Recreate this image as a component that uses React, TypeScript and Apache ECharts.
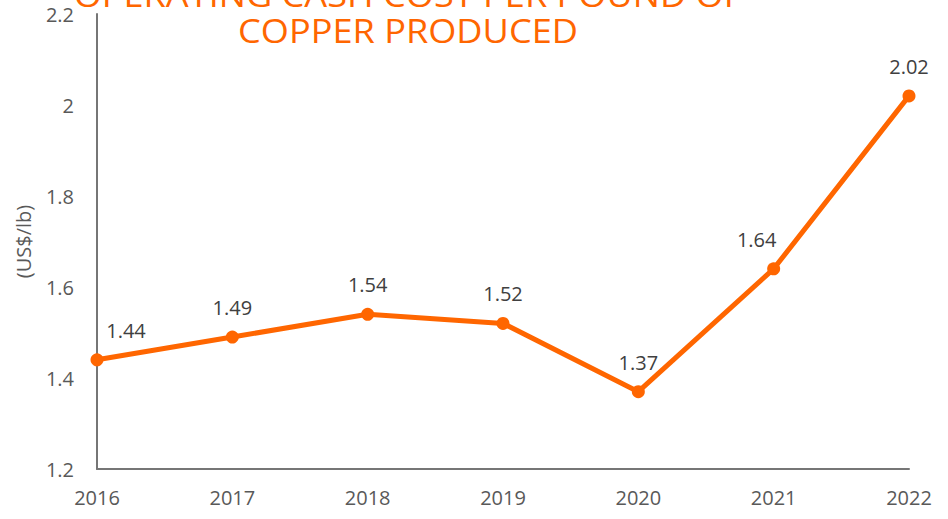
import React, { useEffect, useRef } from "react";
import * as echarts from "echarts";

const years = ["2016", "2017", "2018", "2019", "2020", "2021", "2022"];
const costs = [1.44, 1.49, 1.54, 1.52, 1.37, 1.64, 2.02];
const labelOffsets: [number, number][] = [[29, 0], [0, 0], [0, 0], [0, 0], [0, 0], [-17, 0], [0, 0]];

const ORANGE = "#FF6600";

export default function App() {
  const ref = useRef<HTMLDivElement>(null);
  useEffect(() => {
    const chart = echarts.init(ref.current!, null, { renderer: "svg" });
    chart.setOption({
      animation: false,
      grid: { left: 97, right: 39, top: 14, bottom: 50 },
      graphic: [
        {
          type: "text",
          x: 408,
          y: -23,
          scaleX: 1.13,
          style: {
            text: "OPERATING CASH COST PER POUND OF\nCOPPER PRODUCED",
            fill: ORANGE,
            font: '32px "Open Sans", sans-serif',
            textAlign: "center",
            lineHeight: 36,
          },
        },
      ],
      xAxis: {
        type: "category",
        data: years,
        boundaryGap: false,
        axisLine: { lineStyle: { color: "#767676", width: 2 } },
        axisTick: { show: false },
        axisLabel: { color: "#595959", fontSize: 20, margin: 18, fontFamily: "Open Sans" },
      },
      yAxis: {
        type: "value",
        min: 1.2,
        max: 2.2,
        interval: 0.2,
        name: "(US$/lb)",
        nameLocation: "middle",
        nameGap: 64,
        nameTextStyle: { color: "#595959", fontSize: 20, fontFamily: "Open Sans" },
        splitLine: { show: false },
        axisLine: { show: true, lineStyle: { color: "#767676", width: 2 } },
        axisTick: { show: false },
        axisLabel: {
          color: "#595959",
          fontSize: 20,
          margin: 23,
          fontFamily: "Open Sans",
          formatter: (v: number) => String(Math.round(v * 10) / 10),
        },
      },
      series: [
        {
          type: "line",
          data: costs.map((v, i) => ({
            value: v,
            label: { offset: labelOffsets[i] },
          })),
          color: ORANGE,
          lineStyle: { width: 5, color: ORANGE },
          symbol: "circle",
          symbolSize: 13,
          itemStyle: { color: ORANGE },
          label: {
            show: true,
            position: "top",
            distance: 13,
            color: "#404040",
            fontSize: 20,
            fontFamily: "Open Sans",
            formatter: (p: any) => p.value.toFixed(2),
          },
        },
      ],
    });
    return () => chart.dispose();
  }, []);
  return <div ref={ref} style={{ width: 948, height: 519, position: "absolute", left: 0, top: 0 }} />;
}
